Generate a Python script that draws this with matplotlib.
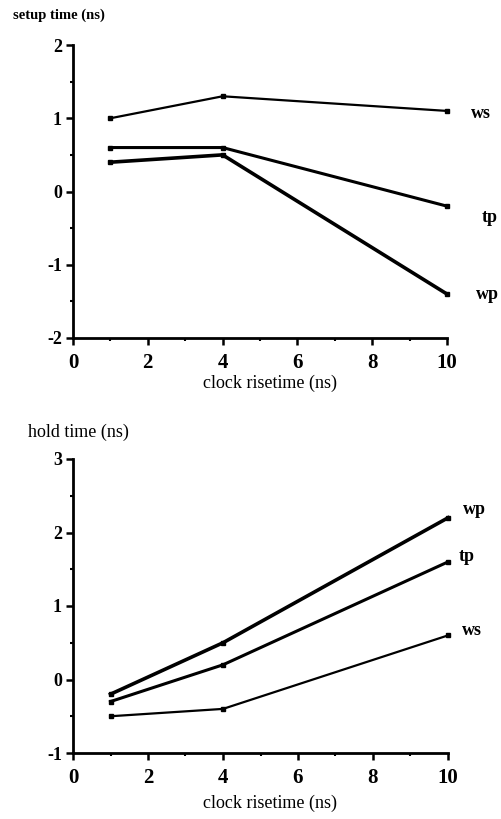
import matplotlib
matplotlib.use("Agg")
import matplotlib.pyplot as plt
from matplotlib.ticker import MultipleLocator

plt.rcParams['font.family'] = ['Liberation Serif', 'DejaVu Serif']
plt.rcParams['axes.unicode_minus'] = False

risetime = [1, 4, 10]

setup_ws = [1.0, 1.3, 1.1]
setup_tp = [0.6, 0.6, -0.2]
setup_wp = [0.4, 0.5, -1.4]

hold_wp = [-0.2, 0.5, 2.2]
hold_tp = [-0.3, 0.2, 1.6]
hold_ws = [-0.5, -0.4, 0.6]

xticks = [0, 2, 4, 6, 8, 10]
setup_yticks = [-2, -1, 0, 1, 2]
hold_yticks = [-1, 0, 1, 2, 3]

fig = plt.figure(figsize=(5.02, 8.19), dpi=100)
W, H = 502, 819


def make_ax(left, top, right, bottom):
    return fig.add_axes([left / W, 1 - bottom / H, (right - left) / W, (bottom - top) / H])


def style(ax, yticks):
    for s in ['top', 'right']:
        ax.spines[s].set_visible(False)
    for s in ['left', 'bottom']:
        ax.spines[s].set_linewidth(2.0)
    ax.set_xlim(0, 10)
    ax.set_ylim(yticks[0], yticks[-1])
    ax.set_xticks(xticks)
    ax.set_yticks(yticks)
    ax.xaxis.set_minor_locator(MultipleLocator(1))
    ax.yaxis.set_minor_locator(MultipleLocator(0.5))
    ax.tick_params(axis='both', which='major', direction='out', length=5, width=1.8)
    ax.tick_params(axis='both', which='minor', direction='out', length=2.5, width=1.5)
    ax.tick_params(axis='x', which='major', labelsize=15, pad=6)
    ax.tick_params(axis='y', which='major', labelsize=13, pad=3)
    for lab in ax.get_xticklabels() + ax.get_yticklabels():
        lab.set_fontweight('bold')
    ax.set_facecolor('white')


mk = dict(marker='s', markersize=3.5, color='black', clip_on=False)

ax1 = make_ax(73, 45, 447, 338)
style(ax1, setup_yticks)
ax1.plot(risetime, setup_ws, lw=1.6, **mk)
ax1.plot(risetime, setup_tp, lw=2.2, **mk)
ax1.plot(risetime, setup_wp, lw=2.6, **mk)
lab_kw = dict(fontsize=13, fontweight='bold', ha='center', va='center', clip_on=False)
ax1.text(10.9, 1.07, 'ws', **lab_kw)
ax1.text(11.15, -0.35, 'tp', **lab_kw)
ax1.text(11.07, -1.41, 'wp', **lab_kw)

ax2 = make_ax(73, 459, 448, 753)
style(ax2, hold_yticks)
ax2.plot(risetime, hold_wp, lw=2.6, **mk)
ax2.plot(risetime, hold_tp, lw=2.2, **mk)
ax2.plot(risetime, hold_ws, lw=1.6, **mk)
ax2.text(10.7, 2.31, 'wp', **lab_kw)
ax2.text(10.5, 1.68, 'tp', **lab_kw)
ax2.text(10.65, 0.67, 'ws', **lab_kw)

fig.text(13 / W, 1 - 15 / H, 'setup time (ns)', fontsize=10.5, fontweight='bold',
         ha='left', va='center')
fig.text(28 / W, 1 - 432 / H, 'hold time (ns)', fontsize=13,
         ha='left', va='center')
fig.text(270 / W, 1 - 383 / H, 'clock risetime (ns)', fontsize=13,
         ha='center', va='center')
fig.text(270 / W, 1 - 803 / H, 'clock risetime (ns)', fontsize=13,
         ha='center', va='center')

fig.savefig('out.png', dpi=100, facecolor='white')
